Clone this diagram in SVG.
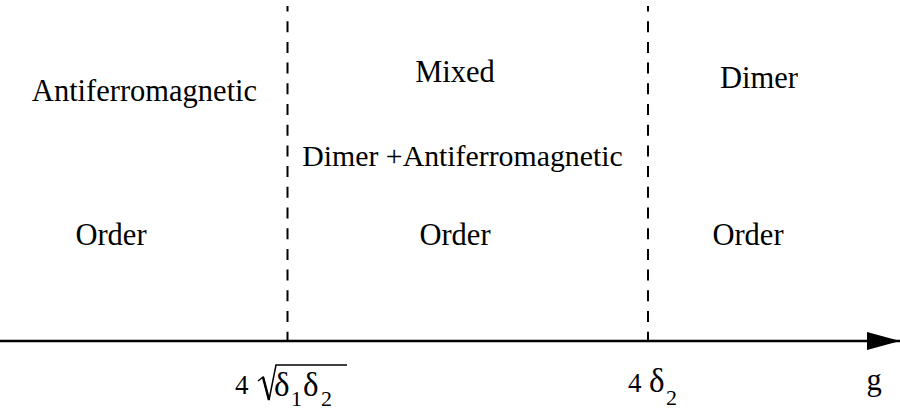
<svg xmlns="http://www.w3.org/2000/svg" width="900" height="420" viewBox="0 0 900 420">
<style>
text{font-family:'Liberation Serif','Tinos','DejaVu Serif','Noto Serif',serif;fill:#000}
.lbl{font-size:30.5px;text-anchor:middle}
.wide{font-size:29.8px}
.dash{stroke:#000;stroke-width:2;stroke-dasharray:11 9.7;fill:none}
.sym{font-size:33px}
.num{font-size:27px}
.sub{font-size:22px}
</style>
<defs>
<marker id="arr" markerUnits="userSpaceOnUse" markerWidth="34" markerHeight="20" refX="33" refY="9" orient="auto">
<path d="M0,0 L33,9 L0,18 Z" fill="#000"/>
</marker>
</defs>
<g id="connectors">
<line x1="0" y1="341" x2="900" y2="341" stroke="#000" stroke-width="2.5" marker-end="url(#arr)"/>
<line class="dash" x1="287.5" y1="6" x2="287.5" y2="341" stroke-dashoffset="5.5"/>
<line class="dash" x1="648" y1="6" x2="648" y2="341" stroke-dashoffset="5.5"/>
</g>
<g id="region-af">
<text class="lbl" x="144.5" y="101">Antiferromagnetic</text>
<text class="lbl" x="111" y="245">Order</text>
</g>
<g id="region-mixed">
<text class="lbl" x="455" y="82">Mixed</text>
<text class="lbl wide" x="462.5" y="166">Dimer +Antiferromagnetic</text>
<text class="lbl" x="455" y="245">Order</text>
</g>
<g id="region-dimer">
<text class="lbl" x="759" y="88">Dimer</text>
<text class="lbl" x="748" y="245">Order</text>
</g>
<g id="label-sqrt">
<text class="num" x="235" y="394">4</text>
<path d="M258,381 L263,377 L269,400 L276,365 L347,365" fill="none" stroke="#000" stroke-width="1.5"/>
<path d="M263,377 L269,400" fill="none" stroke="#000" stroke-width="2.5"/>
<text class="sym" x="274" y="396">δ</text>
<text class="sub" x="291" y="406">1</text>
<text class="sym" x="303" y="396">δ</text>
<text class="sub" x="321" y="406">2</text>
</g>
<g id="label-4d2">
<text class="num" x="628" y="392">4</text>
<text class="sym" x="649" y="392">δ</text>
<text class="sub" x="666" y="405">2</text>
</g>
<g id="label-g">
<text class="lbl" x="874" y="390">g</text>
</g>
</svg>
